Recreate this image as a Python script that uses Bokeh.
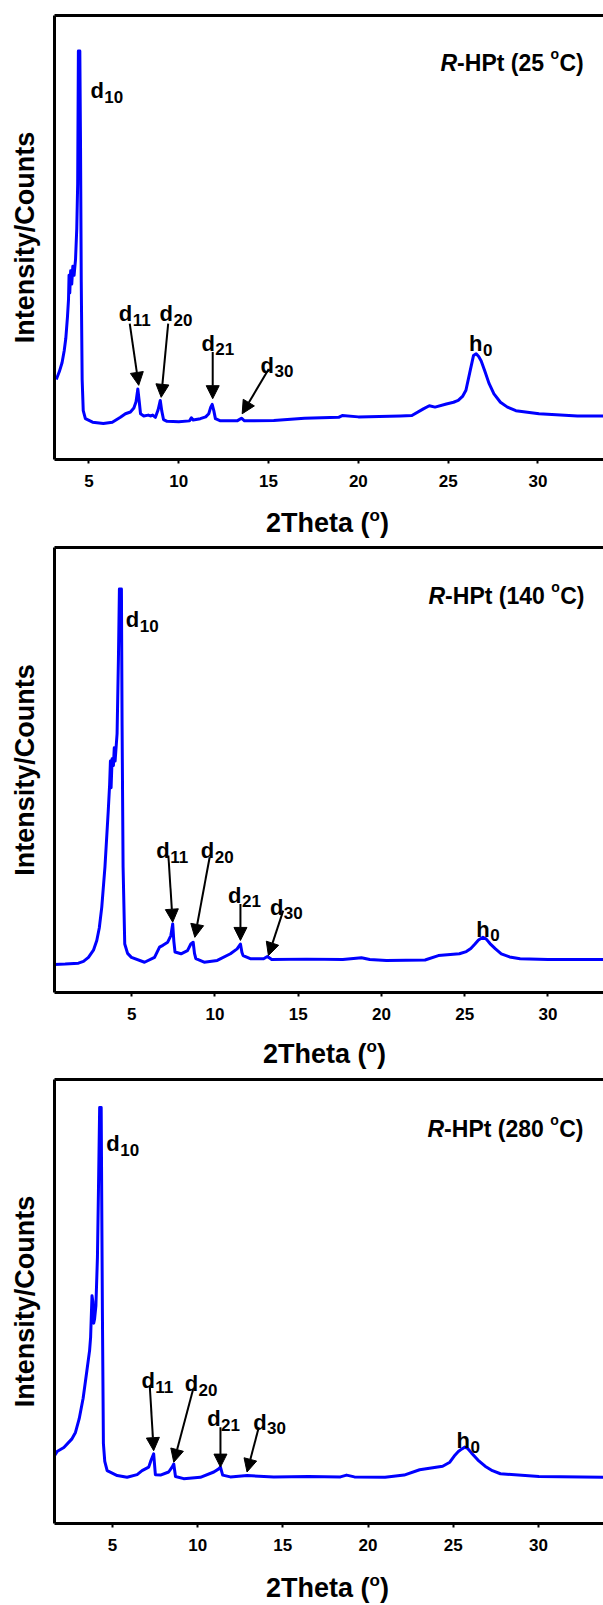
from bokeh.plotting import figure
from bokeh.layouts import column
from bokeh.models import Range1d, LinearAxis, FixedTicker, Label, Arrow, NormalHead, Div
from bokeh.embed import file_html
from bokeh.resources import INLINE

# ---------------- data ----------------
# 2Theta (deg) and relative intensity (0-100 of the panel height)
theta_25 = [3.18, 3.35, 3.5, 3.62, 3.71, 3.8, 3.86, 3.89, 3.93, 3.98, 4.04, 4.1, 4.17, 4.25, 4.32, 4.37,
            4.41, 4.49, 4.53, 4.57, 4.62, 4.68, 4.8, 5.2, 5.8, 6.3, 6.75, 7.03, 7.31, 7.5, 7.62, 7.72,
            7.8, 7.87, 8.05, 8.3, 8.42, 8.55, 8.7, 8.85, 8.97, 9.05, 9.15, 9.35, 10.0, 10.6, 10.7, 10.8,
            11.2, 11.5, 11.67, 11.78, 11.86, 11.95, 12.04, 12.32, 13.25, 13.49, 13.66, 15.29, 17.0,
            18.9, 19.1, 20.0, 22.34, 22.98, 23.62, 23.95, 24.27, 24.9, 25.3, 25.56, 25.8, 25.99, 26.2,
            26.41, 26.56, 26.7, 26.84, 27.05, 27.27, 27.55, 27.91, 28.3, 28.77, 30.06, 32.2, 33.65]
counts_25 = [18.0, 19.8, 21.8, 24.5, 27.3, 32.0, 36.0, 41.5, 37.5, 42.5, 39.5, 43.5, 41.5, 45.0, 52.0, 62.0,
             92.0, 92.0, 70.0, 40.0, 18.0, 11.0, 9.2, 8.4, 8.1, 8.4, 9.5, 10.3, 10.7, 11.6, 13.0, 15.9,
             13.0, 10.3, 9.8, 10.0, 9.8, 10.0, 9.5, 11.2, 13.3, 11.0, 9.0, 8.6, 8.5, 8.7, 9.4, 8.9,
             9.2, 9.6, 10.3, 11.8, 12.4, 11.0, 9.2, 8.7, 8.7, 9.3, 8.7, 8.8, 9.3,
             9.5, 9.9, 9.6, 9.8, 9.9, 11.4, 12.1, 11.8, 12.5, 12.9, 13.3, 14.2, 15.6, 19.5,
             23.4, 23.8, 23.2, 22.2, 19.8, 17.2, 14.8, 12.9, 11.8, 11.0, 10.3, 9.8, 9.8]

theta_140 = [0.36, 1.0, 1.8, 2.1, 2.4, 2.7, 2.9, 3.05, 3.2, 3.39, 3.59, 3.67, 3.72, 3.76, 3.82, 3.9,
             3.95, 4.0, 4.12, 4.2, 4.26, 4.38, 4.42, 4.48, 4.58, 4.75, 4.98, 5.77, 6.37, 6.67, 6.87,
             7.16, 7.35, 7.46, 7.53, 7.6, 7.96, 8.35, 8.55, 8.69, 8.77, 8.85, 9.35, 10.14, 10.93,
             11.33, 11.53, 11.62, 11.69, 12.12, 12.92, 13.15, 13.41, 15.5, 17.68, 18.8, 19.3, 20.3,
             22.62, 23.42, 24.68, 25.1, 25.37, 25.62, 25.83, 26.1, 26.3, 26.52, 26.85, 27.2, 27.7,
             28.33, 30.0, 33.34]
counts_140 = [6.3, 6.4, 6.6, 7.0, 7.9, 9.5, 11.7, 14.5, 19.2, 28.2, 40.9, 46.6, 52.0, 46.0, 52.5, 51.0,
              55.0, 52.0, 58.2, 75.0, 90.7, 90.7, 60.0, 28.2, 10.9, 8.8, 7.9, 6.8, 7.9, 10.2, 10.6,
              11.3, 12.8, 15.4, 11.5, 9.1, 8.7, 9.4, 10.9, 11.3, 8.8, 7.6, 6.8, 7.2, 8.7,
              9.8, 10.9, 9.0, 8.3, 7.6, 7.6, 8.1, 7.4, 7.5, 7.4, 7.8, 7.4, 7.2,
              7.3, 8.3, 8.7, 9.2, 9.9, 10.9, 11.8, 12.4, 12.0, 11.0, 9.8, 8.7, 8.0,
              7.6, 7.4, 7.4]

theta_280 = [1.6, 1.75, 2.15, 2.61, 2.83, 3.05, 3.28, 3.5, 3.66, 3.72, 3.8, 3.85, 3.9, 3.95, 4.03,
             4.12, 4.18, 4.25, 4.34, 4.41, 4.47, 4.55, 4.69, 5.28, 5.86, 6.45, 6.74, 7.13, 7.26, 7.42,
             7.52, 7.82, 8.3, 8.5, 8.6, 8.7, 9.18, 10.16, 10.95, 11.24, 11.34, 11.47, 11.92, 12.9,
             14.47, 16.5, 18.38, 18.74, 19.2, 21.0, 22.12, 23.03, 24.38, 24.8, 25.06, 25.3, 25.51,
             25.67, 25.85, 26.07, 26.45, 26.87, 27.3, 27.77, 30.03, 33.82]
counts_280 = [15.3, 16.2, 17.1, 19.0, 20.5, 23.6, 28.2, 34.4, 39.0, 42.0, 51.3, 50.0, 45.1, 46.0, 49.0,
              60.0, 75.1, 93.7, 93.7, 48.2, 18.0, 14.0, 11.9, 10.8, 10.4, 11.0, 11.9, 12.7, 14.2, 15.7,
              11.0, 10.9, 11.6, 12.7, 13.4, 10.6, 10.1, 10.4, 11.6, 12.3, 12.7, 10.9, 10.5, 10.8,
              10.5, 10.6, 10.5, 10.9, 10.5, 10.4, 10.9, 12.1, 12.9, 13.8, 15.2, 16.2, 16.8,
              17.2, 16.9, 15.9, 14.3, 12.9, 11.9, 11.2, 10.6, 10.4]

# peak labels: letter, subscript
peak_letters = ["d", "d", "d", "d", "d", "h"]
peak_subs = ["10", "11", "20", "21", "30", "0"]

# label anchor positions (2Theta, intensity)
lab25_x = [5.08, 6.66, 8.93, 11.26, 14.55, 26.16]
lab25_y = [83.1, 32.8, 32.8, 26.2, 21.2, 26.1]
lab140_x = [4.64, 6.47, 9.15, 10.79, 13.3, 25.7]
lab140_y = [83.8, 31.9, 31.9, 21.8, 19.2, 14.2]
lab280_x = [4.64, 6.7, 9.24, 10.56, 13.26, 25.2]
lab280_y = [85.5, 32.2, 31.5, 23.6, 22.8, 18.6]

# arrows for d11, d20, d21, d30: start (x0, y0) -> tip (x1, y1)
arr25_x0 = [7.27, 9.41, 11.89, 15.01]
arr25_y0 = [30.6, 30.6, 24.2, 20.4]
arr25_x1 = [7.77, 9.02, 11.89, 13.53]
arr25_y1 = [16.7, 14.0, 13.7, 10.3]
arr140_x0 = [7.2, 9.68, 11.53, 14.1]
arr140_y0 = [30.8, 30.4, 19.9, 18.4]
arr140_x1 = [7.46, 8.79, 11.53, 13.21]
arr140_y1 = [15.8, 12.4, 11.7, 8.3]
arr280_x0 = [7.19, 9.74, 11.34, 13.59]
arr280_y0 = [31.1, 30.3, 21.7, 21.7]
arr280_x1 = [7.42, 8.6, 11.34, 12.9]
arr280_y1 = [16.4, 13.8, 12.7, 11.6]

temps = ["25", "140", "280"]
x_ticks = [5, 10, 15, 20, 25, 30]
x_title = "2Theta"

# ---------------- styling helpers ----------------
FONT = "Liberation Sans"
WID = {'R': 722, '-': 333, 'H': 722, 'P': 667, 't': 333, ' ': 278, '(': 333, ')': 333,
       'C': 722, 'o': 611, 'd': 611, 'h': 611, 'T': 611, 'e': 556, 'a': 556}
for c in "0123456789":
    WID[c] = 556


def tw(s, size):
    return sum(WID.get(c, 556) for c in s) / 1000.0 * size


def lab(p, text, x, y, size, units="data", style="bold", xo=0, yo=0):
    p.add_layout(Label(x=x, y=y, x_units=units, y_units=units, text=text,
                       text_font=FONT, text_font_size=f"{size}px", text_font_style=style,
                       text_color="black", text_align="left", text_baseline="alphabetic",
                       x_offset=xo, y_offset=yo))


def make_panel(xs, ys, xr, left, top, height, temp, title_sx, title_sy,
               lx, ly, ax0, ay0, ax1, ay1):
    p = figure(width=603, height=height, x_range=Range1d(*xr), y_range=Range1d(0, 100),
               output_backend="svg", toolbar_location=None,
               min_border_left=left, min_border_right=0, min_border_top=top,
               min_border_bottom=43)
    p.outline_line_color = None
    p.xgrid.grid_line_color = None
    p.ygrid.grid_line_color = None
    p.background_fill_color = "white"
    p.border_fill_color = "white"

    xa = p.xaxis[0]
    xa.ticker = FixedTicker(ticks=x_ticks)
    xa.axis_line_width = 3
    xa.axis_line_color = "black"
    xa.major_tick_out = 4
    xa.major_tick_in = 0
    xa.major_tick_line_width = 2
    xa.minor_tick_line_color = None
    xa.major_label_text_font = FONT
    xa.major_label_text_font_style = "bold"
    xa.major_label_text_font_size = "17px"
    xa.major_label_text_color = "black"
    xa.major_label_standoff = 11

    ya = p.yaxis[0]
    ya.ticker = FixedTicker(ticks=[])
    ya.axis_line_width = 3
    ya.axis_line_color = "black"
    ya.major_tick_line_color = None
    ya.minor_tick_line_color = None
    ya.major_label_text_font_size = "0px"
    ya.axis_label = "Intensity/Counts"
    ya.axis_label_text_font = FONT
    ya.axis_label_text_font_style = "bold"
    ya.axis_label_text_font_size = "27px"
    ya.axis_label_text_color = "black"
    ya.axis_label_standoff = 15

    top_ax = LinearAxis(ticker=FixedTicker(ticks=[]), major_label_text_font_size="0px",
                        major_tick_line_color=None, minor_tick_line_color=None,
                        major_tick_out=0, major_tick_in=0, minor_tick_out=0, minor_tick_in=0,
                        major_label_standoff=0,
                        axis_line_width=3, axis_line_color="black")
    p.add_layout(top_ax, "above")

    p.line(xs, ys, line_color="#0000FF", line_width=3, line_join="round")

    for i in range(len(ax0)):
        p.add_layout(Arrow(x_start=ax0[i], y_start=ay0[i], x_end=ax1[i], y_end=ay1[i],
                           line_width=2, line_color="black",
                           end=NormalHead(size=13, fill_color="black", line_color="black",
                                          line_width=1)))

    for i in range(len(lx)):
        lab(p, peak_letters[i], lx[i], ly[i], 22)
        lab(p, peak_subs[i], lx[i], ly[i], 17, xo=tw(peak_letters[i], 22) + 0.5, yo=-6)

    ts = 23
    lab(p, "R", title_sx, title_sy, ts, units="screen", style="bold italic")
    part = f"-HPt ({temp} "
    x1 = title_sx + tw("R", ts)
    lab(p, part, x1, title_sy, ts, units="screen")
    x2 = x1 + tw(part, ts)
    lab(p, "o", x2, title_sy, 14, units="screen", yo=9)
    x3 = x2 + tw("o", 14) + 0.5
    lab(p, "C)", x3, title_sy, ts, units="screen")
    return p


def x_title_div(pad_left, pad_top, height):
    html = (f'<div style="padding-left:{pad_left}px; padding-top:{pad_top}px; '
            f'font-family:\'{FONT}\'; font-weight:bold; font-size:27px; line-height:30px; '
            f'color:black; white-space:nowrap;">{x_title} ('
            f'<span style="font-size:17px; position:relative; top:-11px;">o</span>)</div>')
    return Div(text=html, width=603, height=height, margin=(0, 0, 0, 0))


p1 = make_panel(theta_25, counts_25, (3.08, 33.65), 54, 15, 502, temps[0], 386, 397,
                lab25_x, lab25_y, arr25_x0, arr25_y0, arr25_x1, arr25_y1)
p2 = make_panel(theta_140, counts_140, (0.36, 33.34), 49, 5, 493, temps[1], 374, 397,
                lab140_x, lab140_y, arr140_x0, arr140_y0, arr140_x1, arr140_y1)
p3 = make_panel(theta_280, counts_280, (1.6, 33.82), 54, 5, 492, temps[2], 373, 395,
                lab280_x, lab280_y, arr280_x0, arr280_y0, arr280_x1, arr280_y1)

d1 = x_title_div(266, 6, 40)
d2 = x_title_div(263, 4, 39)
d3 = x_title_div(266, 7, 39)

layout = column(p1, d1, p2, d2, p3, d3, spacing=0)
open("out.html", "w").write(file_html(layout, INLINE))
